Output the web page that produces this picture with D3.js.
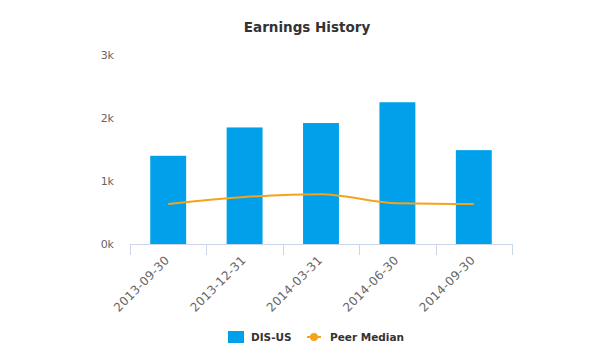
<!DOCTYPE html>
<html><head><meta charset="utf-8">
<script src="https://cdn.jsdelivr.net/npm/d3@7"></script>
<style>body{margin:0;background:#fff}svg{display:block}text{font-family:"DejaVu Sans",Verdana,sans-serif}</style>
</head><body><svg id="c" width="592" height="356"></svg>
<script>
const categories = ["2013-09-30","2013-12-31","2014-03-31","2014-06-30","2014-09-30"];
const disUS = [1400, 1850, 1920, 2250, 1490];
const peerMedian = [635, 745, 790, 645, 635];
const yTicks = [0, 1000, 2000, 3000];
const yTickLabels = ["0k","1k","2k","3k"];
const title = "Earnings History";
const seriesNames = ["DIS-US","Peer Median"];

const svg = d3.select("#c");
const pLeft = 130, pRight = 512, pTop = 55, pBottom = 244;
const x = d3.scaleBand().domain(categories).range([pLeft, pRight]).paddingInner(0.53).paddingOuter(0.265);
const xb = d3.scaleBand().domain(categories).range([pLeft, pRight]);
const y = d3.scaleLinear().domain([0, 3000]).range([pBottom, pTop]);

svg.append("text").attr("x", 307).attr("y", 32).attr("text-anchor","middle")
  .attr("font-size", 13.5).attr("font-weight","bold").attr("fill","#333").text(title);

// y labels
svg.append("g").selectAll("text").data(yTicks).join("text")
  .attr("x", 114).attr("y", d => y(d) + 4).attr("text-anchor","end")
  .attr("font-size", 11).attr("fill","#666").text((d,i) => yTickLabels[i]);

// bars
svg.append("g").selectAll("rect").data(disUS).join("rect")
  .attr("x", (d,i) => x(categories[i])).attr("width", x.bandwidth())
  .attr("y", d => y(d)).attr("height", d => pBottom - y(d)).attr("fill", "#00a0ea");

// x axis
const xAxis = d3.axisBottom(xb).tickSize(0).tickFormat("");
const ax = svg.append("g").attr("transform", `translate(0,${pBottom})`).call(xAxis);
ax.select(".domain").attr("stroke","#ccd6eb").attr("d", `M${pLeft},0.5H${pRight}`);
const tickPos = categories.map(c => xb(c)).concat([pRight]);
ax.selectAll(".tk").data(tickPos).join("line").attr("class","tk")
  .attr("x1", d => Math.round(d)+0.5).attr("x2", d => Math.round(d)+0.5).attr("y1", 0).attr("y2", 11)
  .attr("stroke","#ccd6eb");
ax.selectAll(".lb").data(categories).join("text").attr("class","lb")
  .attr("transform", d => `translate(${xb(d) + xb.bandwidth()/2 + 2},${17}) rotate(-45)`)
  .attr("text-anchor","end").attr("font-size", 12).attr("letter-spacing", 0.3).attr("fill","#666").text(d => d);

// line
const line = d3.line().x((d,i) => xb(categories[i]) + xb.bandwidth()/2).y(d => y(d)).curve(d3.curveMonotoneX);
svg.append("path").datum(peerMedian).attr("d", line).attr("fill","none")
  .attr("stroke","#f5a31a").attr("stroke-width", 2);

// legend
const lg = svg.append("g");
lg.append("rect").attr("x", 228).attr("y", 331).attr("width", 16).attr("height", 12).attr("fill","#00a0ea");
lg.append("text").attr("x", 251).attr("y", 341).attr("font-size", 10.5).attr("font-weight","bold").attr("fill","#333").text(seriesNames[0]);
lg.append("line").attr("x1", 307).attr("x2", 321).attr("y1", 337).attr("y2", 337).attr("stroke","#f5a31a").attr("stroke-width",2);
lg.append("circle").attr("cx", 314).attr("cy", 337).attr("r", 4).attr("fill","#f5a31a");
lg.append("text").attr("x", 330).attr("y", 341).attr("font-size", 10.5).attr("font-weight","bold").attr("fill","#333").text(seriesNames[1]);
</script></body></html>
